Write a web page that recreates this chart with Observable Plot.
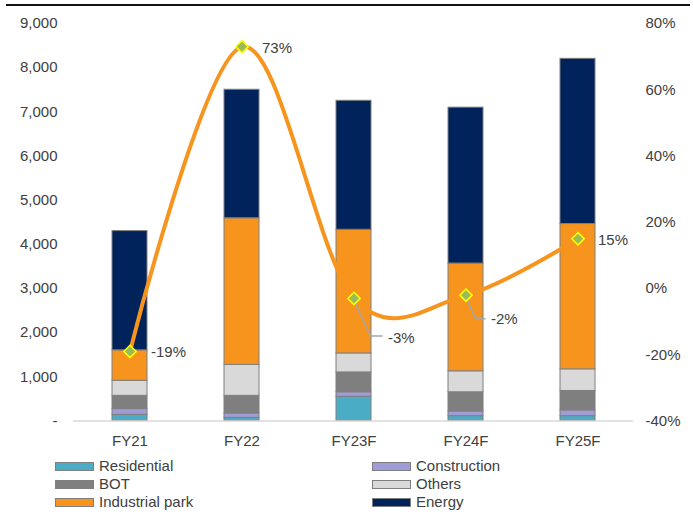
<!DOCTYPE html>
<html>
<head>
<meta charset="utf-8">
<script src="https://cdn.jsdelivr.net/npm/d3@7"></script>
<script src="https://cdn.jsdelivr.net/npm/@observablehq/plot@0.6"></script>
<style>
  body { margin: 0; background: #fff; font-family: "Liberation Sans", Arial, sans-serif; }
  #wrap { position: relative; width: 693px; height: 514px; overflow: hidden; background: #fff; }
  #topline { position: absolute; left: 6px; top: 4px; width: 684px; border-top: 2px solid #111; }
  #chart { position: absolute; left: 0; top: 0; }
  .leg { position: absolute; display: flex; align-items: center; font-size: 15px; line-height: 18px;
         color: #404040; white-space: nowrap; }
  .sw { width: 37px; height: 7px; border: 1px solid #7f7f7f; margin-right: 5px; flex: none; }
</style>
</head>
<body>
<div id="wrap">
  <div id="topline"></div>
  <div id="chart"></div>
  <div id="legend"></div>
</div>
<script>
// Fiscal years on the category axis
const years = ["FY21", "FY22", "FY23F", "FY24F", "FY25F"];

// Revenue by segment (stacked, bottom to top)
const seriesNames = ["Residential", "Construction", "BOT", "Others", "Industrial park", "Energy"];
const residential    = [140,   70,  550,  110,  110];
const construction   = [130,  100,  100,  105,  130];
const bot            = [300,  400,  450,  435,  440];
const others         = [340,  700,  430,  475,  490];
const industrialPark = [690, 3320, 2800, 2440, 3290];
const energy         = [2700, 2910, 2920, 3530, 3740];

// Year-on-year growth, %
const growth = [-19, 73, -3, -2, 15];

// Axis ticks
const leftTicks = [0, 1000, 2000, 3000, 4000, 5000, 6000, 7000, 8000, 9000];
const rightTicks = [-40, -20, 0, 20, 40, 60, 80];

const seriesColors = ["#4BACC6", "#A09CD5", "#7F7F7F", "#D9D9D9", "#F7941D", "#00235B"];
const seriesValues = [residential, construction, bot, others, industrialPark, energy];

const rows = years.flatMap((yr, i) =>
  seriesNames.map((s, j) => ({ year: yr, series: s, value: seriesValues[j][i] })));
const growthRows = years.map((yr, i) => ({ year: yr, g: growth[i] }));

// Growth axis (-40%..80%) shares the vertical extent of the value axis (0..9,000)
const yMax = 9000, gMin = -40, gMax = 80;
const g2y = g => (g - gMin) / (gMax - gMin) * yMax;
const y2g = v => v / yMax * (gMax - gMin) + gMin;

// Label placement for the growth points
const labelStyle = {
  FY21:  { dx: 21, dy: 1 },
  FY22:  { dx: 20, dy: 1 },
  FY23F: { dx: 34, dy: 40, leader: [[1, 4], [17, 38], [29, 38]] },
  FY24F: { dx: 25, dy: 24, leader: [[1, 4], [10, 24], [20, 24]] },
  FY25F: { dx: 20, dy: 1 }
};

const fmt = d3.format(",");
const font = '"Liberation Sans", Arial, sans-serif';

const plot = Plot.plot({
  width: 693,
  height: 452,
  marginTop: 23,
  marginBottom: 31.5,
  marginLeft: 73,
  marginRight: 60,
  style: { fontFamily: font, fontSize: "15px", color: "#404040", background: "transparent", overflow: "visible" },
  x: { domain: years, paddingInner: 0.6875, paddingOuter: 0.34375, axis: null },
  y: { domain: [0, yMax], axis: null },
  color: { domain: seriesNames, range: seriesColors },
  marks: [
    Plot.axisX({ tickSize: 0, tickPadding: 14, label: null, fill: "#404040" }),
    Plot.axisY(leftTicks, { anchor: "left", tickSize: 0, tickPadding: 16, label: null, fill: "#404040",
      tickFormat: v => v === 0 ? "-" : fmt(v) }),
    Plot.axisY(rightTicks.map(g2y), { anchor: "right", tickSize: 0, tickPadding: 12, label: null, fill: "#404040",
      tickFormat: v => Math.round(y2g(v)) + "%" }),
    Plot.barY(rows, { x: "year", y: "value", fill: "series", order: seriesNames,
      stroke: "#7F7F7F", strokeWidth: 1 }),
    Plot.ruleY([0], { stroke: "#D9D9D9", strokeWidth: 1.5 }),
    Plot.line(growthRows, { x: "year", y: d => g2y(d.g), curve: "cardinal",
      stroke: "#F7941D", strokeWidth: 4 }),
    Plot.dot(growthRows, { x: "year", y: d => g2y(d.g), symbol: "diamond2", r: 5.6,
      fill: "#9BBB59", stroke: "#FFFF00", strokeWidth: 1.5 }),
    ...growthRows.map(d => Plot.text([d], { x: "year", y: r => g2y(r.g), text: r => r.g + "%",
      textAnchor: "start", dx: labelStyle[d.year].dx, dy: labelStyle[d.year].dy,
      fill: "#404040", fontSize: 15 }))
  ]
});

document.getElementById("chart").appendChild(plot);

// Leader lines for the labels pushed away from their points
const xs = plot.scale("x"), ys = plot.scale("y");
const svg = d3.select(plot);
const leaders = svg.insert("g", "g[aria-label='dot']").attr("aria-label", "leaders");
growthRows.forEach(d => {
  const st = labelStyle[d.year];
  if (!st.leader) return;
  const cx = xs.apply(d.year) + xs.bandwidth / 2;
  const cy = ys.apply(g2y(d.g));
  leaders.append("polyline")
    .attr("points", st.leader.map(([ox, oy]) => `${cx + ox},${cy + oy}`).join(" "))
    .attr("fill", "none").attr("stroke", "#A6A6A6").attr("stroke-width", 1.5);
});

// Legend below the plot, two columns
const legendPos = [
  [55, 457], [372, 457],
  [55, 475], [372, 475],
  [55, 493], [372, 493]
];
const legendOrder = ["Residential", "Construction", "BOT", "Others", "Industrial park", "Energy"];
const legend = document.getElementById("legend");
legendOrder.forEach((name, i) => {
  const item = document.createElement("div");
  item.className = "leg";
  item.style.left = legendPos[i][0] + "px";
  item.style.top = legendPos[i][1] + "px";
  const sw = document.createElement("span");
  sw.className = "sw";
  sw.style.background = seriesColors[seriesNames.indexOf(name)];
  const label = document.createElement("span");
  label.textContent = name;
  item.appendChild(sw);
  item.appendChild(label);
  legend.appendChild(item);
});
</script>
</body>
</html>
